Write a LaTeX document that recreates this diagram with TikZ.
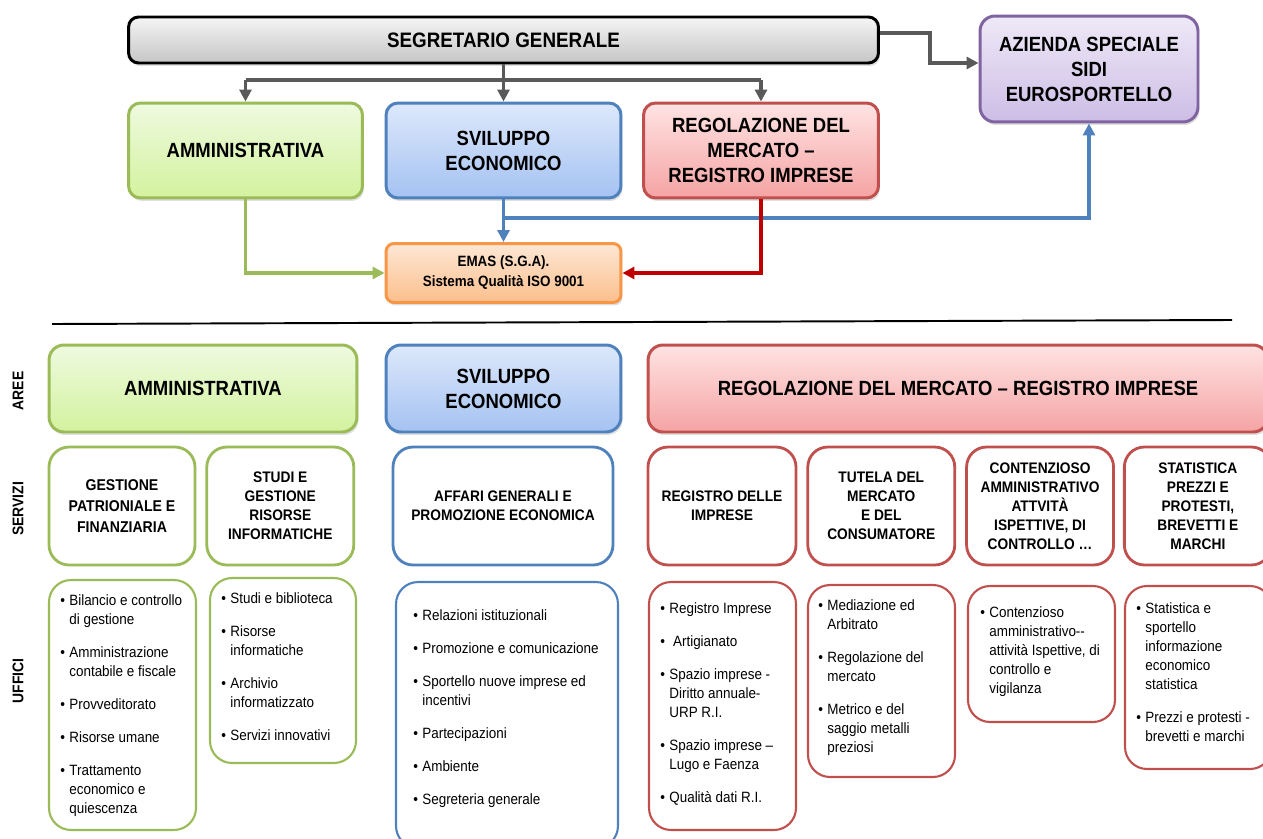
\documentclass[tikz,border=0pt]{standalone}
\usepackage{fontspec}
\setmainfont[FakeStretch=0.9]{Liberation Sans}
\usepackage{graphicx}
\usepackage{xcolor}
\usetikzlibrary{arrows.meta,positioning,shadows}

\definecolor{grigioC}{HTML}{595959}
\definecolor{verde}{HTML}{9BBB59}
\definecolor{blu}{HTML}{4F81BD}
\definecolor{rosso}{HTML}{C0504D}
\definecolor{rossoC}{HTML}{C00000}
\definecolor{arancio}{HTML}{F79646}
\definecolor{viola}{HTML}{8064A2}
\definecolor{verdeA}{HTML}{EEFADF}
\definecolor{verdeZ}{HTML}{D3F29E}
\definecolor{bluA}{HTML}{DDE8FB}
\definecolor{bluZ}{HTML}{A4C2F2}
\definecolor{rossoA}{HTML}{FFE3E3}
\definecolor{rossoZ}{HTML}{F5A3A3}
\definecolor{violaA}{HTML}{EEE9F7}
\definecolor{violaZ}{HTML}{CDBDE6}
\definecolor{arancioA}{HTML}{FDE7D5}
\definecolor{arancioZ}{HTML}{FBBF8C}

\newcommand{\punto}{\makebox[0.18cm][l]{\textbullet}}
\newcommand{\rientro}{\hspace*{0.18cm}}

\begin{document}
\begin{tikzpicture}[x=0.02cm, y=-0.02cm,
  capo/.style={rectangle, rounded corners=0.24cm, line width=1.7pt, font=\fontsize{11.7}{14.2}\selectfont\bfseries, align=center, drop shadow={opacity=0.25, shadow xshift=0.03cm, shadow yshift=-0.06cm}},
  verdebox/.style={capo, draw=verde, top color=verdeA, bottom color=verdeZ},
  blubox/.style={capo, draw=blu, top color=bluA, bottom color=bluZ},
  rossobox/.style={capo, draw=rosso, top color=rossoA, bottom color=rossoZ},
  violabox/.style={capo, draw=viola, top color=violaA, bottom color=violaZ},
  serv/.style={rectangle, rounded corners=0.4cm, line width=1.6pt, fill=white, font=\fontsize{8.7}{10.8}\selectfont\bfseries, align=center, minimum width=2.94cm, minimum height=2.36cm},
  uff/.style={rectangle, rounded corners=0.44cm, line width=1.2pt, fill=white, minimum width=2.94cm},
  voci/.style={anchor=north west, inner sep=0pt, align=left, font=\fontsize{8.5}{10.8}\selectfont},
  riga/.style={font=\fontsize{8.8}{10}\selectfont\bfseries, rotate=90},
  conn/.style={line width=1.8pt, -{Triangle[length=0.24cm, width=0.24cm]}}
]
\path[use as bounding box, fill=white] (0,0) rectangle (1263,838);

% Vertice: segretario e azienda speciale
\node[capo, draw=black, top color=gray!8, bottom color=gray!45, rounded corners=0.2cm, minimum width=15cm, minimum height=0.92cm, font=\fontsize{11.9}{14}\selectfont\bfseries] (seg) at (503.5,40) {SEGRETARIO GENERALE};
\node[violabox, rounded corners=0.3cm, minimum width=4.36cm, minimum height=2.12cm] (azi) at (1089,69) {AZIENDA SPECIALE\\SIDI\\EUROSPORTELLO};

% Aree di primo livello
\node[verdebox, minimum width=4.68cm, minimum height=1.9cm] (amm) at (245.5,150.5) {AMMINISTRATIVA};
\node[blubox, minimum width=4.7cm, minimum height=1.9cm] (svi) at (503.5,150.5) {SVILUPPO\\ECONOMICO};
\node[rossobox, minimum width=4.7cm, minimum height=1.9cm] (reg) at (761,150.5) {REGOLAZIONE DEL\\MERCATO --\\REGISTRO IMPRESE};
\node[capo, draw=arancio, top color=arancioA, bottom color=arancioZ, rounded corners=0.16cm, minimum width=4.7cm, minimum height=1.18cm, font=\fontsize{8.5}{11.4}\selectfont\bfseries] (emas) at (503.5,273) {EMAS (S.G.A).\\Sistema Qualità ISO 9001};

% Collegamenti dal segretario
\coordinate (bar) at (503.5,80);
\draw[line width=1.8pt, grigioC] (amm.north |- bar) -- (reg.north |- bar);
\draw[conn, grigioC] (seg.south) -- (svi.north);
\draw[conn, grigioC] (amm.north |- bar) -- (amm.north);
\draw[conn, grigioC] (reg.north |- bar) -- (reg.north);
\draw[conn, grigioC] ([yshift=0.14cm]seg.east) -- ++(50,0) |- ([yshift=0.12cm]azi.west);

% Collegamenti verso EMAS e azienda
\coordinate (snodo) at (503.5,218);
\draw[conn, verde] (amm.south) |- (emas.west);
\draw[conn, blu] (svi.south) -- (emas.north);
\draw[conn, blu] (snodo) -| (azi.south);
\draw[conn, rossoC] (reg.south) |- (emas.east);

% Separatore
\draw[line width=1.1pt] (52,324) -- (1232,320);

% Etichette di riga
\node[riga] (lAree) at (18,391) {AREE};
\node[riga] (lServ) at (18,509) {SERVIZI};
\node[riga] (lUff) at (18,681) {UFFICI};

% Riga AREE
\node[verdebox, rounded corners=0.3cm, minimum width=6.16cm, minimum height=1.74cm] (aAmm) at (203,388.5) {AMMINISTRATIVA};
\node[blubox, rounded corners=0.3cm, minimum width=4.7cm, minimum height=1.74cm] (aSvi) at (503.5,388.5) {SVILUPPO\\ECONOMICO};
\node[rossobox, rounded corners=0.3cm, minimum width=12.4cm, minimum height=1.74cm] (aReg) at (958,388.5) {REGOLAZIONE DEL MERCATO -- REGISTRO IMPRESE};

% Riga SERVIZI
\node[serv, draw=verde, minimum width=2.92cm, font=\fontsize{8.9}{12}\selectfont\bfseries] (sGest) at (122,506) {GESTIONE\\PATRIONIALE E\\FINANZIARIA};
\node[serv, draw=verde, right=0.18cm of sGest] (sStudi) {STUDI E\\GESTIONE\\RISORSE\\INFORMATICHE};
\node[serv, draw=blu, minimum width=4.4cm] (sAff) at (503,506) {AFFARI GENERALI E\\PROMOZIONE ECONOMICA};
\node[serv, draw=rosso, minimum width=2.96cm] (sReg) at (722,506) {REGISTRO DELLE\\IMPRESE};
\node[serv, draw=rosso, right=0.18cm of sReg] (sTut) {TUTELA DEL\\MERCATO\\E DEL\\CONSUMATORE};
\node[serv, draw=rosso, right=0.18cm of sTut] (sCont) {CONTENZIOSO\\AMMINISTRATIVO\\ATTVITÀ\\ISPETTIVE, DI\\CONTROLLO …};
\node[serv, draw=rosso, right=0.16cm of sCont] (sStat) {STATISTICA\\PREZZI E\\PROTESTI,\\BREVETTI E\\MARCHI};

% Riga UFFICI
\node[uff, draw=verde, minimum height=5cm] (u1) at (122.5,705) {};
\node[voci] (t1) at (60,594) {\punto Bilancio e controllo\\ \rientro di gestione\\[8pt]
  \punto Amministrazione\\ \rientro contabile e fiscale\\[8pt]
  \punto Provveditorato\\[8pt]
  \punto Risorse umane\\[8pt]
  \punto Trattamento\\ \rientro economico e\\ \rientro quiescenza};

\node[uff, draw=verde, minimum width=2.92cm, minimum height=3.7cm] (u2) at (283,670.5) {};
\node[voci] (t2) at (221,592) {\punto Studi e biblioteca\\[8pt]
  \punto Risorse\\ \rientro informatiche\\[8pt]
  \punto Archivio\\ \rientro informatizzato\\[8pt]
  \punto Servizi innovativi};

\node[uff, draw=blu, minimum width=4.44cm, minimum height=5.32cm] (u3) at (507,715) {};
\node[voci] (t3) at (413,609) {\punto Relazioni istituzionali\\[8pt]
  \punto Promozione e comunicazione\\[8pt]
  \punto Sportello nuove imprese ed\\ \rientro incentivi\\[8pt]
  \punto Partecipazioni\\[8pt]
  \punto Ambiente\\[8pt]
  \punto Segreteria generale};

\node[uff, draw=rosso, minimum height=4.96cm] (u4) at (722.5,706) {};
\node[voci] (t4) at (660,602) {\punto Registro Imprese\\[8pt]
  \punto\ Artigianato\\[8pt]
  \punto Spazio imprese -\\ \rientro Diritto annuale-\\ \rientro URP R.I.\\[8pt]
  \punto Spazio imprese --\\ \rientro Lugo e Faenza\\[8pt]
  \punto Qualità dati R.I.};

\node[uff, draw=rosso, minimum height=3.84cm] (u5) at (881.5,681) {};
\node[voci] (t5) at (818,599) {\punto Mediazione ed\\ \rientro Arbitrato\\[8pt]
  \punto Regolazione del\\ \rientro mercato\\[8pt]
  \punto Metrico e del\\ \rientro saggio metalli\\ \rientro preziosi};

\node[uff, draw=rosso, minimum height=2.72cm] (u6) at (1041.5,654) {};
\node[voci] (t6) at (980,606) {\punto Contenzioso\\ \rientro amministrativo-{}-\\ \rientro attività Ispettive, di\\ \rientro controllo e\\ \rientro vigilanza};

\node[uff, draw=rosso, minimum height=3.66cm] (u7) at (1198.5,677.5) {};
\node[voci] (t7) at (1136,602) {\punto Statistica e\\ \rientro sportello\\ \rientro informazione\\ \rientro economico\\ \rientro statistica\\[8pt]
  \punto Prezzi e protesti -\\ \rientro brevetti e marchi};

\end{tikzpicture}
\end{document}
